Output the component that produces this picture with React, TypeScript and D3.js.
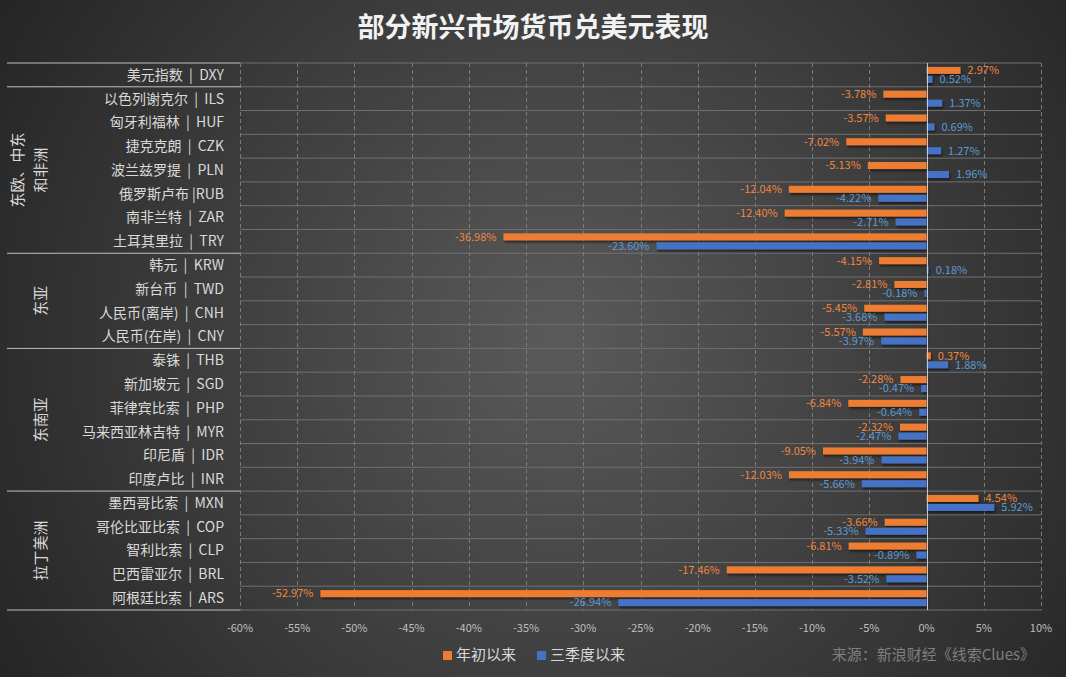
import React, { useRef, useEffect } from "react";
import * as d3 from "d3";

const title = "部分新兴市场货币兑美元表现";

const categories = [
  "美元指数 | DXY",
  "以色列谢克尔 | ILS",
  "匈牙利福林 | HUF",
  "捷克克朗 | CZK",
  "波兰兹罗提 | PLN",
  "俄罗斯卢布 |RUB",
  "南非兰特 | ZAR",
  "土耳其里拉 | TRY",
  "韩元 | KRW",
  "新台币 | TWD",
  "人民币(离岸) | CNH",
  "人民币(在岸) | CNY",
  "泰铢 | THB",
  "新加坡元 | SGD",
  "菲律宾比索 | PHP",
  "马来西亚林吉特 | MYR",
  "印尼盾 | IDR",
  "印度卢比 | INR",
  "墨西哥比索 | MXN",
  "哥伦比亚比索 | COP",
  "智利比索 | CLP",
  "巴西雷亚尔 | BRL",
  "阿根廷比索 | ARS",
];

// 年初以来 (%)
const ytd = [
  2.97, -3.78, -3.57, -7.02, -5.13, -12.04, -12.4, -36.98,
  -4.15, -2.81, -5.45, -5.57,
  0.37, -2.28, -6.84, -2.32, -9.05, -12.03,
  4.54, -3.66, -6.81, -17.46, -52.97,
];

// 三季度以来 (%)
const sinceQ3 = [
  0.52, 1.37, 0.69, 1.27, 1.96, -4.22, -2.71, -23.6,
  0.18, -0.18, -3.68, -3.97,
  1.88, -0.47, -0.64, -2.47, -3.94, -5.66,
  5.92, -5.33, -0.89, -3.52, -26.94,
];

// groups: label lines, first and last category index
const groupLabels = [["东欧、中东", "和非洲"], ["东亚"], ["东南亚"], ["拉丁美洲"]];
const groupStart = [1, 8, 12, 18];
const groupEnd = [7, 11, 17, 22];

const xTicks = [-60, -55, -50, -45, -40, -35, -30, -25, -20, -15, -10, -5, 0, 5, 10];

const seriesNames = ["年初以来", "三季度以来"];

// plain hyphen minus, like the original
const pct = (d: number) => d.toFixed(2) + "%";

export default function App() {
  const svgRef = useRef<SVGSVGElement>(null);

  useEffect(() => {
    document.body.style.margin = "0";

    const width = 1066;
    const height = 677;
    const plotLeft = 240;
    const plotRight = 1041;
    const plotTop = 63;
    const plotBottom = 610;
    const font = "'Noto Sans CJK SC', 'Noto Sans', sans-serif";
    const orange = "#ED7D31";
    const blue = "#4472C4";
    const orangeText = "#F0873F";
    const blueText = "#5B9BD5";

    const svg = d3.select(svgRef.current)
      .attr("width", width)
      .attr("height", height)
      .attr("viewBox", [0, 0, width, height])
      .style("display", "block")
      .style("font-family", font);

    svg.selectAll("*").remove();

    const defs = svg.append("defs");
    const bg = defs.append("radialGradient")
      .attr("id", "bg")
      .attr("gradientUnits", "userSpaceOnUse")
      .attr("cx", 560).attr("cy", 340).attr("r", 640);
    bg.append("stop").attr("offset", "0").attr("stop-color", "#5a5a5a");
    bg.append("stop").attr("offset", "1").attr("stop-color", "#262626");

    const shadow = defs.append("filter").attr("id", "shadow")
      .attr("x", "-10%").attr("y", "-50%").attr("width", "130%").attr("height", "250%");
    shadow.append("feDropShadow")
      .attr("dx", 1).attr("dy", 2).attr("stdDeviation", 1)
      .attr("flood-color", "#000").attr("flood-opacity", 0.55);

    svg.append("rect")
      .attr("width", width).attr("height", height)
      .attr("fill", "url(#bg)");

    const x = d3.scaleLinear()
      .domain([-60, 10])
      .range([plotLeft, plotRight]);

    const y = d3.scaleBand()
      .domain(categories)
      .range([plotTop, plotBottom])
      .paddingInner(0);

    const step = y.step();

    // horizontal grid lines (row boundaries)
    svg.append("g")
      .selectAll("line")
      .data(d3.range(categories.length + 1))
      .join("line")
        .attr("x1", plotLeft).attr("x2", plotRight)
        .attr("y1", (i) => plotTop + i * step)
        .attr("y2", (i) => plotTop + i * step)
        .attr("stroke", "#707070")
        .attr("stroke-width", 1);

    // vertical dashed grid lines
    svg.append("g")
      .selectAll("line")
      .data(xTicks.filter((t) => t !== 0))
      .join("line")
        .attr("x1", (t) => Math.round(x(t)) + 0.5)
        .attr("x2", (t) => Math.round(x(t)) + 0.5)
        .attr("y1", plotTop).attr("y2", plotBottom)
        .attr("stroke", "#7a7a7a")
        .attr("stroke-dasharray", "4,3");

    // group separator lines in the label area
    const sepRows = [0, 1, 8, 12, 18, 23];
    svg.append("g")
      .selectAll("line")
      .data(sepRows)
      .join("line")
        .attr("x1", 7).attr("x2", plotLeft)
        .attr("y1", (i) => plotTop + i * step)
        .attr("y2", (i) => plotTop + i * step)
        .attr("stroke", "#bfbfbf")
        .attr("stroke-width", 1);

    // bars
    const bars = svg.append("g").attr("filter", "url(#shadow)");
    const series = [ytd, sinceQ3];
    const colors = [orange, blue];
    const textColors = [orangeText, blueText];

    series.forEach((values, s) => {
      bars.append("g")
        .attr("fill", colors[s])
        .selectAll("rect")
        .data(values)
        .join("rect")
          .attr("x", (d) => x(Math.min(0, d)))
          .attr("y", (d, i) => y(categories[i])! + step / 2 + (s === 0 ? -8 : 1))
          .attr("width", (d) => Math.abs(x(d) - x(0)))
          .attr("height", 7);
    });

    // zero line
    svg.append("line")
      .attr("x1", Math.round(x(0)) + 0.5).attr("x2", Math.round(x(0)) + 0.5)
      .attr("y1", plotTop).attr("y2", plotBottom)
      .attr("stroke", "#c8c8c8");

    // data labels
    series.forEach((values, s) => {
      svg.append("g")
        .attr("font-size", 11)
        .attr("fill", textColors[s])
        .selectAll("text")
        .data(values)
        .join("text")
          .attr("x", (d) => (d >= 0 ? x(d) + 7 : x(d) - 7))
          .attr("y", (d, i) => y(categories[i])! + step / 2 + (s === 0 ? -4.5 : 4.5))
          .attr("dy", "0.35em")
          .attr("text-anchor", (d) => (d >= 0 ? "start" : "end"))
          .text((d) => pct(d));
    });

    // category labels
    svg.append("g")
      .attr("font-size", 14)
      .attr("fill", "#d9d9d9")
      .attr("text-anchor", "end")
      .selectAll("text")
      .data(categories)
      .join("text")
        .attr("x", 224)
        .attr("y", (d) => y(d)! + step / 2)
        .attr("dy", "0.35em")
        .attr("xml:space", "preserve")
        .style("white-space", "pre")
        .text((d) => d.replace(" | ", "  |  "));

    // group labels (rotated)
    groupLabels.forEach((lines, g) => {
      const cy = (y(categories[groupStart[g]])! + y(categories[groupEnd[g]])! + step) / 2;
      const xs = lines.length === 2 ? [18, 41] : [41];
      lines.forEach((line, k) => {
        svg.append("text")
          .attr("transform", `translate(${xs[k]},${cy}) rotate(-90)`)
          .attr("text-anchor", "middle")
          .attr("dy", "0.35em")
          .attr("font-size", 15)
          .attr("fill", "#d9d9d9")
          .text(line);
      });
    });

    // x axis tick labels
    svg.append("g")
      .attr("font-size", 11)
      .attr("fill", "#bfbfbf")
      .attr("text-anchor", "middle")
      .selectAll("text")
      .data(xTicks)
      .join("text")
        .attr("x", (t) => x(t))
        .attr("y", 628)
        .attr("dy", "0.35em")
        .text((t) => `${t}%`);

    // title
    svg.append("text")
      .attr("x", 533).attr("y", 28)
      .attr("dy", "0.35em")
      .attr("text-anchor", "middle")
      .attr("font-size", 27)
      .attr("font-weight", "bold")
      .attr("fill", "#f2f2f2")
      .text(title);

    // legend
    const legendX = [443, 537];
    seriesNames.forEach((name, s) => {
      svg.append("rect")
        .attr("x", legendX[s]).attr("y", 651)
        .attr("width", 9).attr("height", 9)
        .attr("fill", colors[s]);
      svg.append("text")
        .attr("x", legendX[s] + 13).attr("y", 655)
        .attr("dy", "0.35em")
        .attr("font-size", 15)
        .attr("fill", "#d9d9d9")
        .text(name);
    });

    // source
    svg.append("text")
      .attr("x", 1035).attr("y", 655)
      .attr("dy", "0.35em")
      .attr("text-anchor", "end")
      .attr("font-size", 15)
      .attr("fill", "#7f7f7f")
      .text("来源：新浪财经《线索Clues》");
  }, []);

  return <svg ref={svgRef}></svg>;
}
